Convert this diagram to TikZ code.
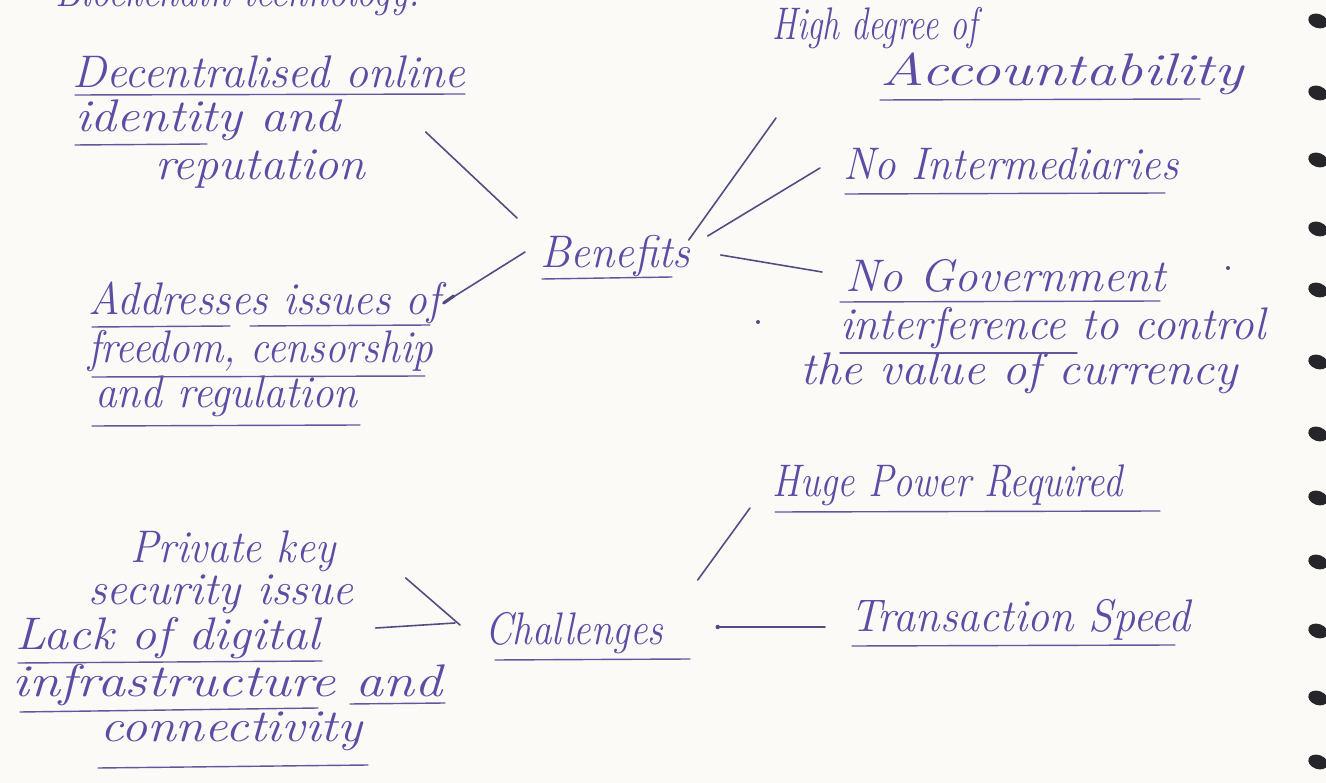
\documentclass[tikz,border=0pt]{standalone}
\usepackage{graphicx}
\newlength\pxu \setlength\pxu{0.02cm}
\newcommand\hw[2]{\resizebox{\dimexpr#1\pxu\relax}{\height}{#2}}
\definecolor{ink}{RGB}{92,76,164}
\definecolor{penline}{RGB}{82,76,128}
\definecolor{paper}{RGB}{251,250,247}
\definecolor{ring}{RGB}{38,38,42}
\begin{document}
\begin{tikzpicture}[x=0.02cm,y=-0.02cm,
  hand/.style={font=\fontsize{26}{30}\selectfont\itshape, text=ink, inner sep=0pt, anchor=base west},
  link/.style={draw=penline, line width=0.9pt, line cap=round},
  uline/.style={draw=ink!80!gray, line width=0.8pt, line cap=round}]
\useasboundingbox (0,0) rectangle (1326,783);
\fill[paper] (0,0) rectangle (1326,783);

% spiral binding
\foreach \yy in {21,93,160,229,290,362,434,498,562,631,698,762}
  \fill[ring, rotate around={-20:(1318,\yy)}] (1318,\yy) ellipse [x radius=10, y radius=7];

% heading (cut at top)
\node[hand] (bc) at (55,7) {\hw{365}{Blockchain technology:}};

% Benefits
\node[hand] (ben) at (540,268) {\hw{150}{Benefits}};
\draw[uline] (542,279) -- (672,277);

\node[hand] (dec1) at (72,88) {\hw{393}{Decentralised online}};
\node[hand] (dec2) at (75,132) {\hw{265}{identity and}};
\node[hand] (dec3) at (155,180) {\hw{210}{reputation}};
\draw[uline] (75,95) -- (465,94);
\draw[uline] (75,145) -- (207,144);

\node[hand] (hi1) at (772,40) {\hw{205}{High degree of}};
\node[hand] (hi2) at (880,86) {\hw{363}{Accountability}};
\draw[uline] (880,100) -- (1200,99);

\node[hand] (ni) at (843,180) {\hw{335}{No Intermediaries}};
\draw[uline] (845,194) -- (1165,193);

\node[hand] (ng1) at (845,292) {\hw{320}{No Government}};
\node[hand] (ng2) at (840,340) {\hw{425}{interference to control}};
\node[hand] (ng3) at (800,385) {\hw{437}{the value of currency}};
\draw[uline] (840,302) -- (1160,301);
\draw[uline] (840,353) -- (1077,353);

\node[hand] (ad1) at (88,315) {\hw{352}{Addresses issues of}};
\node[hand] (ad2) at (88,363) {\hw{345}{freedom, censorship}};
\node[hand] (ad3) at (95,408) {\hw{262}{and regulation}};
\draw[uline] (92,327) -- (230,326);
\draw[uline] (250,326) -- (430,325);
\draw[uline] (92,377) -- (425,376);
\draw[uline] (92,426) -- (360,425);

% Challenges
\node[hand] (ch) at (485,645) {\hw{178}{Challenges}};
\draw[uline] (495,660) -- (690,659);

\node[hand] (hp) at (772,497) {\hw{350}{Huge Power Required}};
\draw[uline] (775,512) -- (1160,511);

\node[hand] (ts) at (850,632) {\hw{340}{Transaction Speed}};
\draw[uline] (852,646) -- (1175,645);

\node[hand] (pk1) at (130,563) {\hw{205}{Private key}};
\node[hand] (pk2) at (88,605) {\hw{265}{security issue}};

\node[hand] (lk1) at (15,650) {\hw{305}{Lack of digital}};
\node[hand] (lk2) at (12,697) {\hw{430}{infrastructure and}};
\node[hand] (lk3) at (100,742) {\hw{262}{connectivity}};
\draw[uline] (18,663) -- (322,661);
\draw[uline] (20,712) -- (318,708);
\draw[uline] (350,704) -- (445,703);
\draw[uline] (98,768) -- (368,765);

% connectors from Benefits
\draw[link] ([shift={(-2,-28)}]ben.base east) -- ([shift={(4,78)}]hi1.base west);
\draw[link] ([shift={(17,-32)}]ben.base east) -- ([shift={(-23,-12)}]ni.base west);
\draw[link] ([shift={(30,-13)}]ben.base east) -- ([shift={(-23,-20)}]ng1.base west);
\draw[link] ([shift={(-23,-50)}]ben.base west) -- ([shift={(85,0)}]dec2.base east);
\draw[link] ([shift={(-15,-16)}]ben.base west) -- ([shift={(3,-12)}]ad1.base east);
\draw[link, line width=1.8pt] ([shift={(3,-12)}]ad1.base east) -- ([shift={(13,-19)}]ad1.base east);

% connectors from Challenges
\draw[link] ([shift={(34,-65)}]ch.base east) -- ([shift={(-22,11)}]hp.base west);
\draw[link] ([shift={(54,-18)}]ch.base east) -- ([shift={(-25,-5)}]ts.base west);
\fill[penline] ([shift={(54,-18)}]ch.base east) circle [radius=2.2];
\draw[link] ([shift={(-25,-20)}]ch.base west) -- ([shift={(52,-27)}]pk2.base east);
\draw[link] ([shift={(-30,-22)}]ch.base west) -- ([shift={(55,-22)}]lk1.base east);

% stray pen dots
\fill[penline] (758,322) circle [radius=2];
\fill[penline] (1228,268) circle [radius=2];
\end{tikzpicture}
\end{document}
